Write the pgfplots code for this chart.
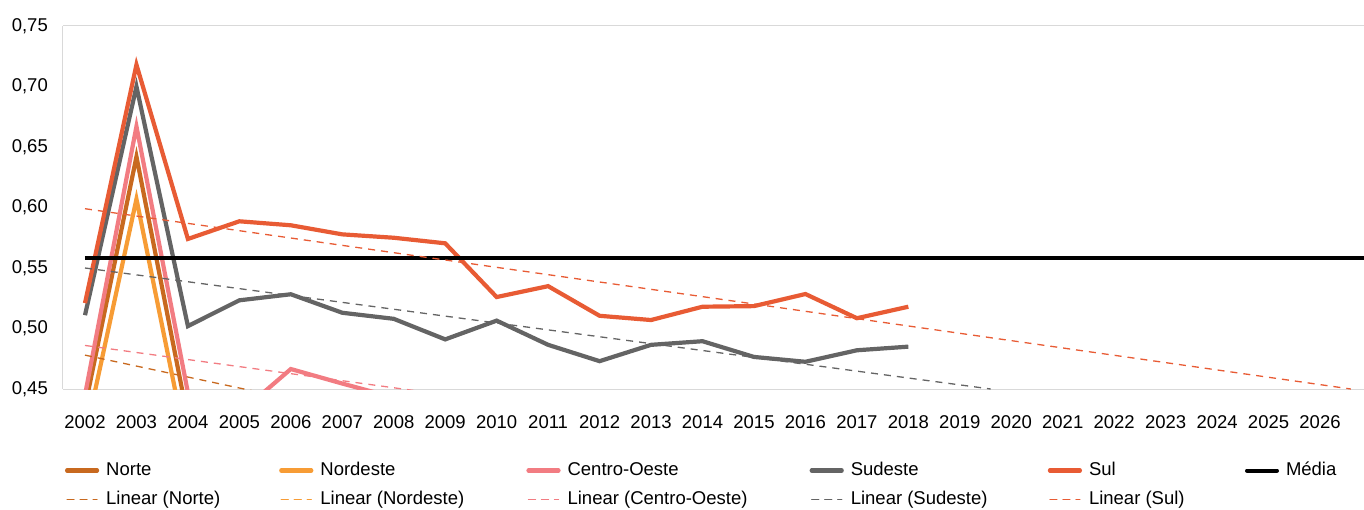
\documentclass[border=0pt]{standalone}
\usepackage{fontspec}
\setmainfont{Liberation Sans}
\usepackage{pgfplots}
\pgfplotsset{compat=1.18}
\definecolor{cNorte}{HTML}{C8691F}
\definecolor{cNordeste}{HTML}{F79C35}
\definecolor{cCO}{HTML}{F27C82}
\definecolor{cSudeste}{HTML}{646464}
\definecolor{cSul}{HTML}{E85B34}
\definecolor{cGrid}{HTML}{D9D9D9}
\begin{document}
\begin{tikzpicture}[font=\fontsize{18.5}{22}\selectfont]
\begin{axis}[
  name=ax, at={(0,0)}, anchor=south west,
  scale only axis, width=1301pt, height=363pt,
  xmin=-0.4275, xmax=24.855, ymin=0.45, ymax=0.75,
  xtick={0,1,2,3,4,5,6,7,8,9,10,11,12,13,14,15,16,17,18,19,20,21,22,23,24},
  xticklabels={2002,2003,2004,2005,2006,2007,2008,2009,2010,2011,2012,2013,2014,2015,2016,2017,2018,2019,2020,2021,2022,2023,2024,2025,2026},
  ytick={0.45,0.5,0.55,0.6,0.65,0.7,0.75},
  yticklabel style={/pgf/number format/fixed, /pgf/number format/fixed zerofill, /pgf/number format/precision=2, /pgf/number format/use comma, /pgf/number format/assume math mode=true, anchor=east, inner sep=0pt, xshift=-15pt},
  xticklabel style={inner sep=0pt, anchor=north, yshift=-26.5pt},
  major tick length=0pt,
  axis x line*=bottom, axis y line*=left,
  axis line style={draw=cGrid, line width=1pt, -},
  extra y ticks={0.75}, extra y tick labels={},
  extra y tick style={grid=major, major grid style={draw=cGrid, line width=1pt}},
  legend columns=6,
  legend cell align=left,
  legend style={at={(0,0)}, anchor=north west, yshift=-72.5pt, draw=none, fill=none, inner sep=0pt, outer sep=0pt, column sep=0pt, row sep=11pt, nodes={inner sep=0pt, text height=14pt, text depth=4pt}},
  legend image code/.code={\draw[#1, line cap=round] (2pt,0pt) -- (32pt,0pt); \path (0pt,0pt) (39pt,0pt);},
  every axis plot/.append style={line join=miter},
]
% main series
\addplot[cNorte, line width=4.2pt] coordinates {(0,0.435)(1,0.642)(2,0.425)(3,0.42)(4,0.415)(5,0.41)(6,0.40)(7,0.40)(8,0.39)(9,0.39)(10,0.385)(11,0.38)(12,0.38)(13,0.375)(14,0.37)(15,0.37)(16,0.365)};
\addlegendentry{\makebox[171pt][l]{Norte}}
\addplot[cNordeste, line width=4.2pt] coordinates {(0,0.41)(1,0.607)(2,0.397)(3,0.39)(4,0.385)(5,0.38)(6,0.375)(7,0.37)(8,0.365)(9,0.36)(10,0.355)(11,0.35)(12,0.35)(13,0.345)(14,0.34)(15,0.34)(16,0.335)};
\addlegendentry{\makebox[204pt][l]{Nordeste}}
\addplot[cCO, line width=4.2pt] coordinates {(0,0.445)(1,0.667)(2,0.447)(3,0.430)(4,0.4665)(5,0.4545)(6,0.443)(7,0.435)(8,0.43)(9,0.425)(10,0.42)(11,0.415)(12,0.41)(13,0.41)(14,0.405)(15,0.40)(16,0.40)};
\addlegendentry{\makebox[240pt][l]{Centro-Oeste}}
\addplot[cSudeste, line width=4.2pt] coordinates {(0,0.511)(1,0.700)(2,0.502)(3,0.5233)(4,0.5283)(5,0.513)(6,0.508)(7,0.491)(8,0.5065)(9,0.4865)(10,0.473)(11,0.4865)(12,0.4895)(13,0.4765)(14,0.4725)(15,0.482)(16,0.485)};
\addlegendentry{\makebox[195pt][l]{Sudeste}}
\addplot[cSul, line width=4.2pt] coordinates {(0,0.521)(1,0.718)(2,0.574)(3,0.5886)(4,0.5853)(5,0.5778)(6,0.575)(7,0.5704)(8,0.526)(9,0.535)(10,0.5105)(11,0.507)(12,0.518)(13,0.5185)(14,0.5285)(15,0.5085)(16,0.518)};
\addlegendentry{\makebox[154pt][l]{Sul}}
\addplot[black, line width=4pt] coordinates {(0,0.558)(24.855,0.558)};
\addlegendentry{\makebox[60pt][l]{Média}}
% linear trends
\addplot[cNorte, line width=1.3pt, dash pattern=on 7pt off 6pt] coordinates {(0,0.478)(5,0.4327)};
\addlegendentry{Linear (Norte)}
\addplot[cNordeste, line width=1.3pt, dash pattern=on 7pt off 6pt] coordinates {(0,0.443)(24,0.317)};
\addlegendentry{Linear (Nordeste)}
\addplot[cCO, line width=1.3pt, dash pattern=on 7pt off 6pt] coordinates {(0,0.486)(10,0.4277)};
\addlegendentry{Linear (Centro-Oeste)}
\addplot[cSudeste, line width=1.3pt, dash pattern=on 7pt off 6pt] coordinates {(0,0.550)(17.6,0.450)};
\addlegendentry{Linear (Sudeste)}
\addplot[cSul, line width=1.3pt, dash pattern=on 7pt off 6pt] coordinates {(0,0.599)(24.6,0.450)};
\addlegendentry{Linear (Sul)}
\end{axis}
\pgfresetboundingbox
\path (-63pt,-120pt) rectangle (1301pt,389pt);
\end{tikzpicture}
\end{document}
